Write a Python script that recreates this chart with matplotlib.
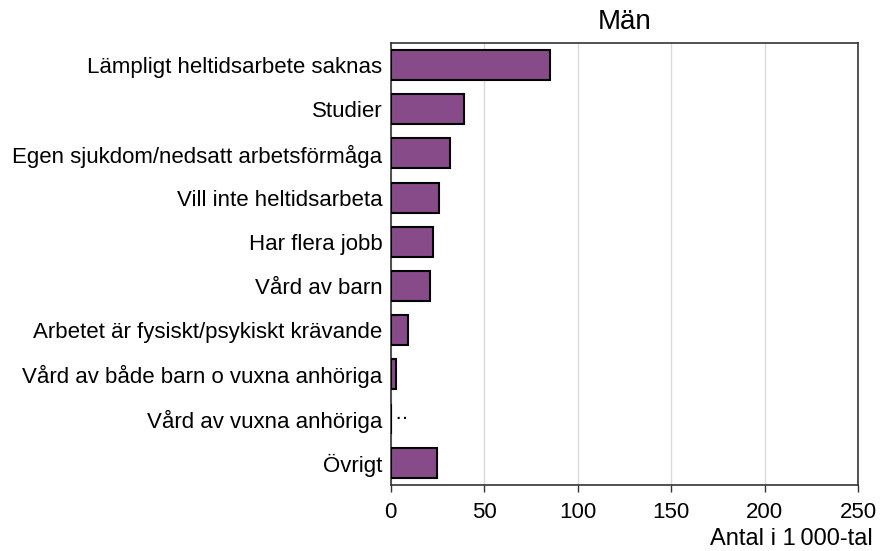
import numpy as np
import matplotlib.pyplot as plt

plt.rcParams['font.family'] = ['Liberation Sans', 'DejaVu Sans']

categories = [
    'Lämpligt heltidsarbete saknas',
    'Studier',
    'Egen sjukdom/nedsatt arbetsförmåga',
    'Vill inte heltidsarbeta',
    'Har flera jobb',
    'Vård av barn',
    'Arbetet är fysiskt/psykiskt krävande',
    'Vård av både barn o vuxna anhöriga',
    'Vård av vuxna anhöriga',
    'Övrigt',
]
values = [85, 39, 31.6, 26, 22.5, 21, 9, 2.6, np.nan, 24.8]
xticks = [0, 50, 100, 150, 200, 250]

fig = plt.figure(figsize=(8.82, 5.51), dpi=100)
ax = fig.add_axes([0.443, 0.120, 0.530, 0.802])

y = np.arange(len(categories))
vals = np.nan_to_num(values)
ax.barh(y, vals, height=0.68, color='#874b8a', edgecolor='black',
        linewidth=1.5, zorder=3)

# saknade värden markeras med två punkter
for yi, v in zip(y, values):
    if np.isnan(v):
        ax.text(2, yi, '··', va='center', ha='left', fontsize=16)

ax.set_yticks(y)
ax.set_yticklabels(categories, fontsize=16)
ax.set_ylim(len(categories) - 0.5, -0.5)
ax.set_xlim(0, 250)
ax.set_xticks(xticks)
ax.set_xticklabels([str(t) for t in xticks], fontsize=16)
ax.tick_params(axis='y', length=0, pad=6)
ax.tick_params(axis='x', direction='out', length=5, width=1, color='#333333', pad=7)
ax.xaxis.grid(True, color='#d9d9d9', linewidth=1, zorder=0)
ax.set_axisbelow(True)
for s in ax.spines.values():
    s.set_color('#333333')
    s.set_linewidth(1.2)

ax.set_title('Män', fontsize=20, pad=10)
fig.text(873 / 882, 1 - 545 / 551, 'Antal i 1\u2009000-tal', fontsize=17,
         ha='right', va='baseline')

fig.savefig('out.png', dpi=100)
